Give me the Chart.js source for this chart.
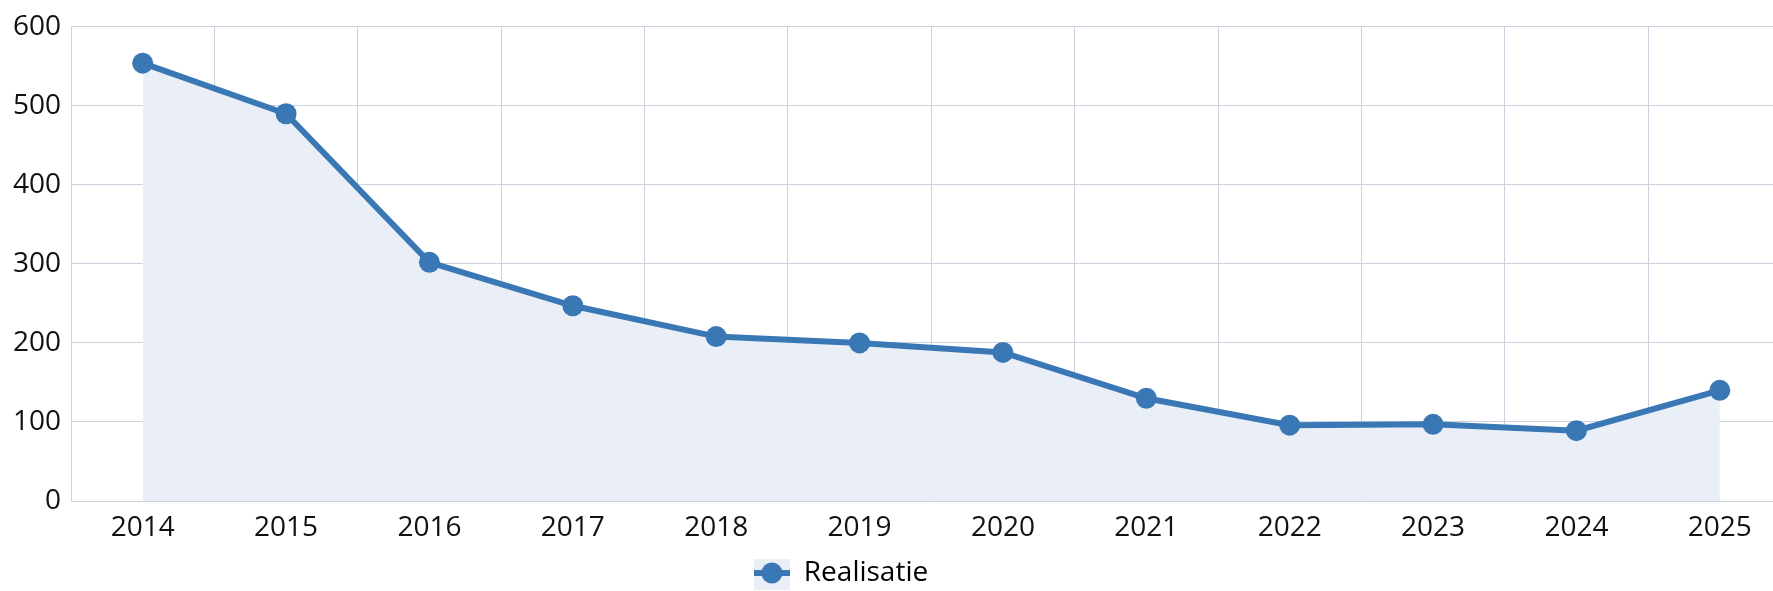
<!DOCTYPE html>
<html>
<head>
<meta charset="utf-8">
<script src="https://cdn.jsdelivr.net/npm/chart.js@4/dist/chart.umd.min.js"></script>
<style>
  html, body { margin: 0; padding: 0; overflow: hidden; background: #ffffff; width: 1773px; height: 591px; }
  #wrap { width: 1773px; height: 591px; overflow: hidden; position: relative; }
  #c { position: absolute; left: 0; top: 0; }
</style>
</head>
<body>
<div id="wrap"><canvas id="c" width="1802" height="591"></canvas></div>
<script>
const categories = ['2014','2015','2016','2017','2018','2019','2020','2021','2022','2023','2024','2025'];
const realisatie = [554, 490, 302, 247, 208, 200, 188, 130, 96, 97, 89, 140];
const seriesName = 'Realisatie';
const yTicks = [0, 100, 200, 300, 400, 500, 600];

const LINE = '#3a77b5';
const FILL = '#eaeff7';
const GRID = '#c9d2de';
const FONT = "'Open Sans', 'Noto Sans', sans-serif";

// legend symbol: light box with line and dot
const sym = document.createElement('canvas');
sym.width = 36; sym.height = 34;
(function(){
  const g = sym.getContext('2d');
  g.fillStyle = FILL;
  g.fillRect(0, 0, 36, 34);
  g.strokeStyle = LINE;
  g.lineWidth = 6;
  g.beginPath(); g.moveTo(0, 17); g.lineTo(36, 17); g.stroke();
  g.fillStyle = LINE;
  g.beginPath(); g.arc(18, 17, 10.5, 0, Math.PI * 2); g.fill();
})();

const shiftLegend = {
  id: 'shiftLegend',
  afterLayout(chart) {
    if (chart.legend) {
      const d = 841 - (chart.legend.left + chart.legend.right) / 2;
      chart.legend.left += d; chart.legend.right += d;
      chart.legend.top += 6; chart.legend.bottom += 6;
    }
  }
};

new Chart(document.getElementById('c'), {
  type: 'line',
  data: {
    labels: categories,
    datasets: [{
      label: seriesName,
      data: realisatie,
      borderColor: LINE,
      backgroundColor: FILL,
      fill: 'origin',
      borderWidth: 6,
      pointRadius: 10.5,
      pointHoverRadius: 10.5,
      pointBackgroundColor: LINE,
      pointBorderColor: LINE,
      pointBorderWidth: 0,
      tension: 0
    }]
  },
  plugins: [shiftLegend],
  options: {
    responsive: false,
    animation: false,
    devicePixelRatio: 1,
    layout: { padding: { top: 26, right: 0, left: 0, bottom: 0 } },
    plugins: {
      tooltip: { enabled: false },
      legend: {
        position: 'bottom',
        labels: {
          usePointStyle: true,
          pointStyleWidth: 36,
          padding: 0,
          color: '#111111',
          font: { family: FONT, size: 28 },
          generateLabels(chart) {
            return [{
              text: seriesName,
              pointStyle: sym,
              fillStyle: FILL,
              strokeStyle: LINE,
              lineWidth: 0,
              datasetIndex: 0,
              hidden: false
            }];
          }
        }
      }
    },
    scales: {
      x: {
        type: 'category',
        offset: true,
        grid: { offset: true, color: GRID, lineWidth: 1, drawTicks: false },
        border: { color: GRID },
        ticks: { color: '#111111', padding: 10, font: { family: FONT, size: 28 }, maxRotation: 0 },
        afterFit(scale) { scale.height = 52; }
      },
      y: {
        min: 0,
        max: 600,
        afterBuildTicks(scale) { scale.ticks = yTicks.map(v => ({ value: v })); },
        grid: { color: GRID, lineWidth: 1, drawTicks: false },
        border: { color: GRID },
        ticks: { color: '#111111', padding: 10, font: { family: FONT, size: 28 } },
        afterFit(scale) { scale.width = 71; }
      }
    }
  }
});
</script>
</body>
</html>
